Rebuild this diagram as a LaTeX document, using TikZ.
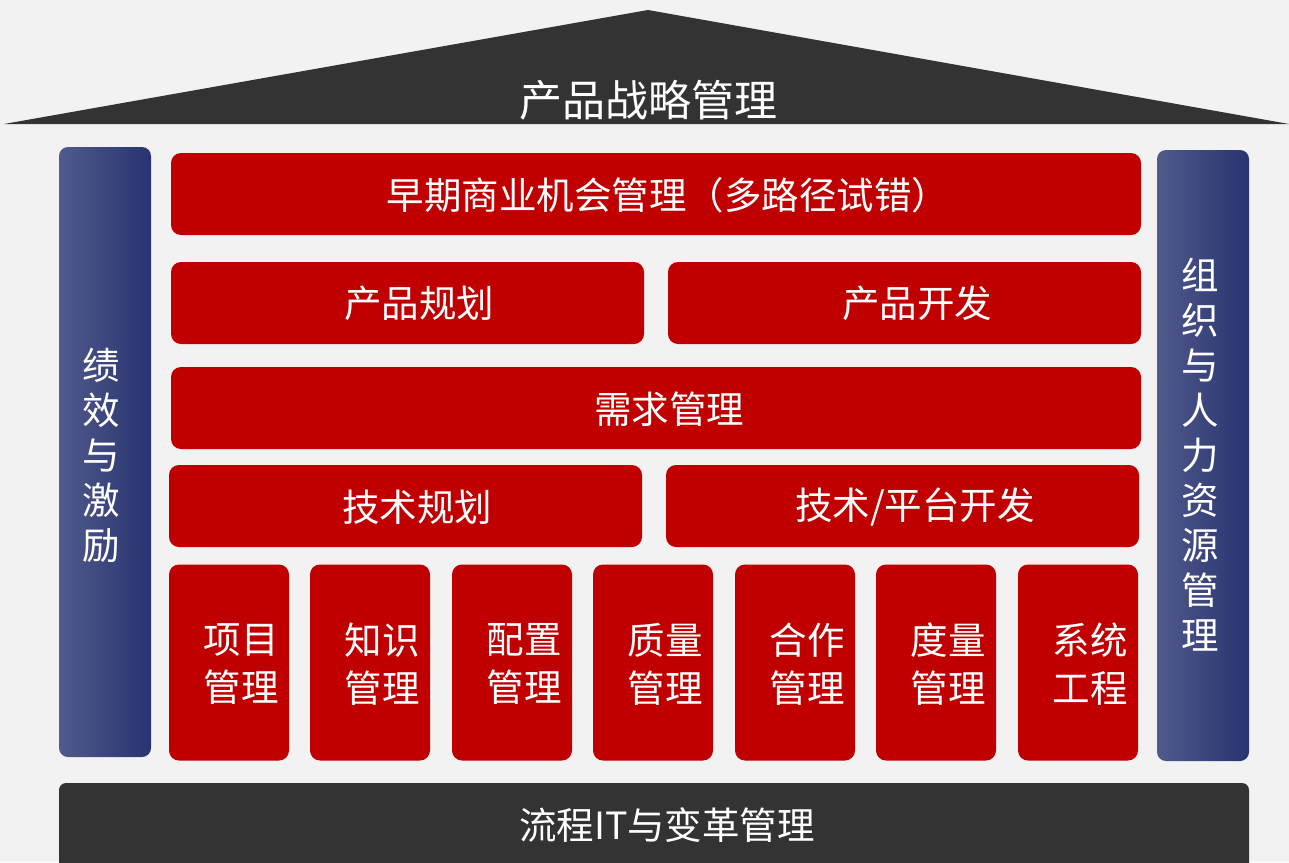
\documentclass[tikz,border=0pt]{standalone}
\usepackage{fontspec}
\setmainfont{Noto Sans CJK SC}
\definecolor{bg}{HTML}{F2F2F2}
\definecolor{dark}{HTML}{333333}
\definecolor{myred}{HTML}{C00000}
\definecolor{pilL}{HTML}{515A8B}
\definecolor{pilR}{HTML}{283370}
\tikzset{
  redbox/.style={fill=myred, draw=none, rounded corners=10pt, inner sep=0pt},
  pillar/.style={left color=pilL, right color=pilR, draw=none, rounded corners=9pt, inner sep=0pt},
  lbl/.style={text=white, font=\fontsize{37.5}{45}\selectfont, align=center, inner sep=0pt},
  biglbl/.style={text=white, font=\fontsize{43}{50}\selectfont, inner sep=0pt},
}
\begin{document}
\begin{tikzpicture}[x=1pt,y=-1pt]
\useasboundingbox (0,0) rectangle (1289,862);
\fill[bg] (0,0) rectangle (1289,862);
% roof
\fill[dark] (4,124) -- (648,10) -- (1289,124) -- cycle;
\node[biglbl] (roof) at (648,100) {产品战略管理};
% pillars
\node[pillar, minimum width=92pt, minimum height=610pt] (lp) at (105,452) {};
\node[lbl] (lpt) at (101,455) {绩\\效\\与\\激\\励};
\node[pillar, minimum width=92pt, minimum height=611pt] (rp) at (1203,455.5) {};
\node[lbl] (rpt) at (1200,455) {组\\织\\与\\人\\力\\资\\源\\管\\理};
% rows
\node[redbox, minimum width=970pt, minimum height=82pt] (r1) at (656,194) {};
\node[lbl] (r1t) at (668,195) {早期商业机会管理（多路径试错）};
\node[redbox, minimum width=473pt, minimum height=82pt] (r2a) at (407.5,303) {};
\node[lbl] (r2at) at (419,303) {产品规划};
\node[redbox, minimum width=473pt, minimum height=82pt] (r2b) at (904.5,303) {};
\node[lbl] (r2bt) at (917,303) {产品开发};
\node[redbox, minimum width=970pt, minimum height=82pt] (r3) at (656,408) {};
\node[lbl] (r3t) at (669,409) {需求管理};
\node[redbox, minimum width=473pt, minimum height=82pt] (r4a) at (405.5,506) {};
\node[lbl] (r4at) at (417,507) {技术规划};
\node[redbox, minimum width=473pt, minimum height=82pt] (r4b) at (902.5,506) {};
\node[lbl] (r4bt) at (915,507) {技术/平台开发};
% bottom boxes
\foreach \i/\x/\t in {1/229/项目\\管理, 2/370/知识\\管理, 3/512/配置\\管理, 4/653/质量\\管理, 5/795/合作\\管理, 6/936/度量\\管理, 7/1078/系统\\工程}{
  \node[redbox, minimum width=120pt, minimum height=196pt] (b\i) at (\x,662.5) {};
  \node[lbl, font=\fontsize{37.5}{48}\selectfont] (b\i t) at (\x+12,664) {\t};
}
% base
\node[fill=dark, rounded corners=7pt, minimum width=1190pt, minimum height=110pt, inner sep=0pt] (base) at (654,838) {};
\node[lbl] (baset) at (667,825) {流程IT与变革管理};
\end{tikzpicture}
\end{document}
